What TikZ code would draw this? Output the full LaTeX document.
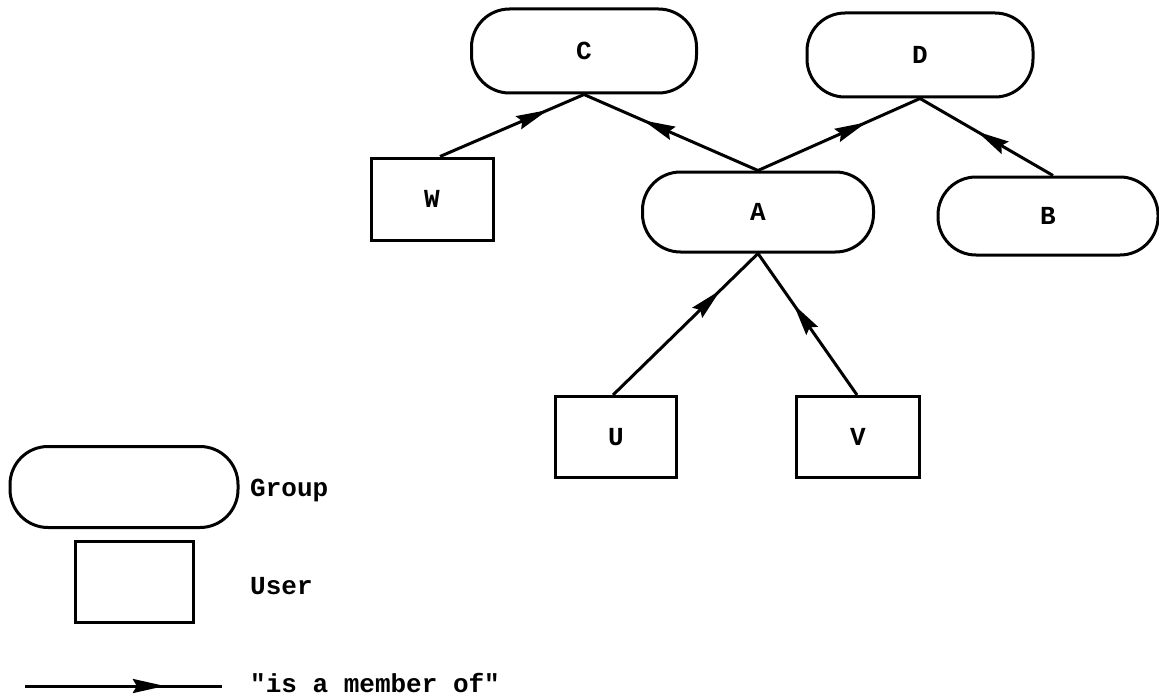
\documentclass[tikz,border=0pt]{standalone}
\usepackage{fontspec}
\newfontfamily\typefont{Liberation Mono}
\usetikzlibrary{arrows.meta,decorations.markings}
\tikzset{
  lbl/.style={font=\typefont\fontsize{26}{30}\selectfont\bfseries},
  group/.style={draw, line width=3pt, rectangle, rounded corners=38pt, inner sep=0pt, lbl},
  user/.style={draw, line width=3pt, rectangle, inner sep=0pt, lbl},
  legendtext/.style={anchor=west, inner sep=0pt, lbl},
  member/.style={line width=3pt, postaction={decorate},
    decoration={markings, mark=at position #1 with {\arrow{Stealth[length=32pt,width=14pt,inset=4pt]}}}}
}
\begin{document}
\begin{tikzpicture}[x=1pt,y=-1pt]
\useasboundingbox (0,0) rectangle (1159,698);
% groups
\node[group, minimum width=225pt, minimum height=84pt] (C) at (584,51) {C};
\node[group, minimum width=226pt, minimum height=84pt] (D) at (920,55) {D};
\node[group, minimum width=231pt, minimum height=80pt] (A) at (758,212) {A};
\node[group, minimum width=220pt, minimum height=78pt] (B) at (1048,216) {B};
% users
\node[user, minimum width=122pt, minimum height=82pt] (W) at (432,199) {W};
\node[user, minimum width=121pt, minimum height=81pt] (U) at (616,437) {U};
\node[user, minimum width=123pt, minimum height=81pt] (V) at (858,437) {V};
% connectors
\draw[member=0.75] ([xshift=8pt]W.north) -- (C.south);
\draw[member=0.66] (A.north) -- (C.south);
\draw[member=0.67] (A.north) -- (D.south);
\draw[member=0.57] ([xshift=5pt]B.north) -- (D.south);
\draw[member=0.74] ([xshift=-3pt]U.north) -- (A.south);
\draw[member=0.64] ([xshift=-1pt]V.north) -- (A.south);
% legend
\node[group, minimum width=228pt, minimum height=81pt] (LG) at (124,487) {};
\node[legendtext] (LGt) at (250,490) {Group};
\node[user, minimum width=118pt, minimum height=81pt] (LU) at (134,582) {};
\node[legendtext] (LUt) at (250,586) {User};
\coordinate (La) at (25,686);
\coordinate (Lb) at (222,686);
\draw[member=0.71] (La) -- (Lb);
\node[legendtext] (LAt) at (250,683) {"is a member of"};
\end{tikzpicture}
\end{document}
